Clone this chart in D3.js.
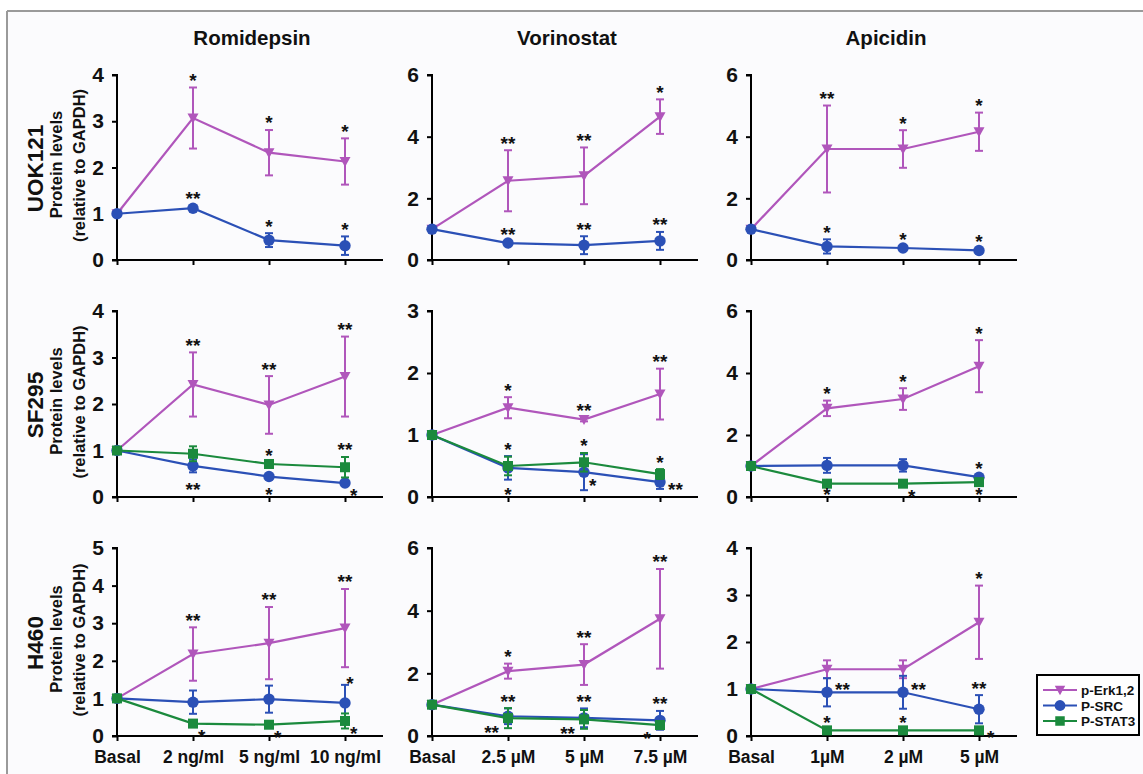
<!DOCTYPE html>
<html>
<head>
<meta charset="utf-8">
<script src="https://cdn.jsdelivr.net/npm/d3@7"></script>
<style>
  html, body { margin: 0; padding: 0; background: #ffffff; }
  svg { display: block; }
  text { font-family: "Liberation Sans", Arial, Helvetica, sans-serif; font-weight: bold; fill: #111; }
</style>
</head>
<body>
<svg id="chart" width="1143" height="774"></svg>
<script>
// ---------------- DATA ----------------
const drugs = ["Romidepsin", "Vorinostat", "Apicidin"];
const cellLines = ["UOK121", "SF295", "H460"];
const doseLabels = [
  ["Basal", "2 ng/ml", "5 ng/ml", "10 ng/ml"],
  ["Basal", "2.5 µM", "5 µM", "7.5 µM"],
  ["Basal", "1µM", "2 µM", "5 µM"]
];
// y-axis maximum and tick step for each panel [row][col]
const yMax = [[4, 6, 6], [4, 3, 6], [5, 6, 4]];
const yStep = [[1, 2, 2], [1, 1, 2], [1, 2, 1]];

const seriesNames = ["p-Erk1,2", "P-SRC", "P-STAT3"];

const erkMean = [
  [[1, 3.07, 2.32, 2.13], [1, 2.57, 2.73, 4.65], [1, 3.60, 3.60, 4.16]],
  [[1, 2.42, 1.98, 2.59], [1, 1.44, 1.25, 1.66], [1, 2.86, 3.16, 4.22]],
  [[1, 2.18, 2.47, 2.87], [1, 2.07, 2.28, 3.74], [1, 1.42, 1.42, 2.42]]
];
const erkErr = [
  [[0, 0.66, 0.49, 0.50], [0, 0.99, 0.92, 0.56], [0, 1.41, 0.61, 0.62]],
  [[0, 0.69, 0.62, 0.86], [0, 0.17, 0.03, 0.41], [0, 0.25, 0.35, 0.84]],
  [[0, 0.71, 0.96, 1.04], [0, 0.24, 0.65, 1.59], [0, 0.19, 0.19, 0.78]]
];
const srcMean = [
  [[1, 1.12, 0.43, 0.31], [1, 0.55, 0.48, 0.62], [1, 0.44, 0.39, 0.31]],
  [[1, 0.67, 0.44, 0.30], [1, 0.47, 0.40, 0.24], [1, 1.02, 1.02, 0.64]],
  [[1, 0.90, 0.98, 0.88], [1, 0.63, 0.58, 0.50], [1, 0.93, 0.93, 0.57]]
];
const srcErr = [
  [[0, 0.05, 0.15, 0.20], [0, 0.05, 0.29, 0.29], [0, 0.23, 0.06, 0.06]],
  [[0, 0.14, 0.04, 0.04], [0, 0.19, 0.29, 0.11], [0, 0.24, 0.20, 0.05]],
  [[0, 0.31, 0.36, 0.48], [0, 0.25, 0.30, 0.30], [0, 0.30, 0.35, 0.30]]
];
const stat3Mean = [
  [null, null, null],
  [[1, 0.93, 0.71, 0.64], [1, 0.50, 0.56, 0.37], [1, 0.43, 0.43, 0.48]],
  [[1, 0.33, 0.30, 0.40], [1, 0.57, 0.53, 0.35], [1, 0.12, 0.12, 0.12]]
];
const stat3Err = [
  [null, null, null],
  [[0, 0.16, 0.04, 0.22], [0, 0.15, 0.15, 0.08], [0, 0.03, 0.03, 0.03]],
  [[0, 0.04, 0.04, 0.20], [0, 0.32, 0.30, 0.05], [0, 0.02, 0.02, 0.02]]
];

// significance marks: [row, col, seriesIndex, doseIndex, label, placement]
const marks = [
  [0,0,0,1,"*","above"],[0,0,0,2,"*","above"],[0,0,0,3,"*","above"],
  [0,0,1,1,"**","above"],[0,0,1,2,"*","above"],[0,0,1,3,"*","above"],
  [0,1,0,1,"**","above"],[0,1,0,2,"**","above"],[0,1,0,3,"*","above"],
  [0,1,1,1,"**","above"],[0,1,1,2,"**","above"],[0,1,1,3,"**","above"],
  [0,2,0,1,"**","above"],[0,2,0,2,"*","above"],[0,2,0,3,"*","above"],
  [0,2,1,1,"*","above"],[0,2,1,2,"*","above"],[0,2,1,3,"*","above"],

  [1,0,0,1,"**","above"],[1,0,0,2,"**","above"],[1,0,0,3,"**","above"],
  [1,0,2,2,"*","above"],[1,0,2,3,"**","above"],
  [1,0,1,1,"**","below"],[1,0,1,2,"*","below"],[1,0,1,3,"*","downRight"],
  [1,1,0,1,"*","above"],[1,1,0,2,"**","above"],[1,1,0,3,"**","above"],
  [1,1,2,1,"*","above"],[1,1,2,2,"*","above"],[1,1,2,3,"*","above"],
  [1,1,1,1,"*","below"],[1,1,1,2,"*","downRight"],[1,1,1,3,"**","right"],
  [1,2,0,1,"*","above"],[1,2,0,2,"*","above"],[1,2,0,3,"*","above"],
  [1,2,1,3,"*","above"],
  [1,2,2,1,"*","below"],[1,2,2,2,"*","downRight"],[1,2,2,3,"*","below"],

  [2,0,0,1,"**","above"],[2,0,0,2,"**","above"],[2,0,0,3,"**","above"],
  [2,0,1,3,"*","aboveRight"],
  [2,0,2,1,"*","downRight"],[2,0,2,2,"*","downRight"],[2,0,2,3,"*","downRight"],
  [2,1,0,1,"*","above"],[2,1,0,2,"**","above"],[2,1,0,3,"**","above"],
  [2,1,1,1,"**","above"],[2,1,1,2,"**","above"],[2,1,1,3,"**","above"],
  [2,1,2,1,"**","downLeft"],[2,1,2,2,"**","downLeft"],[2,1,2,3,"*","downLeft"],
  [2,2,0,3,"*","above"],
  [2,2,1,1,"**","upRight"],[2,2,1,2,"**","upRight"],[2,2,1,3,"**","above"],
  [2,2,2,1,"*","above"],[2,2,2,2,"*","above"],[2,2,2,3,"*","right"]
];

// ---------------- LAYOUT / STYLE ----------------
const colors = ["#b056bb", "#2b50b6", "#1b8a3d"];
const colAxisX = [117, 432, 751];
const rowTop = [75, 311, 548];
const rowZero = [260, 497, 736];
const xStepPx = 76;

const svg = d3.select("#chart");

// frame
svg.append("rect").attr("x", 7).attr("y", 11).attr("width", 1136).attr("height", 763).attr("fill", "#fbfbfd");
svg.append("line").attr("x1", 7).attr("x2", 1143).attr("y1", 11).attr("y2", 11).attr("stroke", "#9a9a9a").attr("stroke-width", 2);
svg.append("line").attr("x1", 7).attr("x2", 7).attr("y1", 11).attr("y2", 774).attr("stroke", "#9a9a9a").attr("stroke-width", 2);

function markerPath(kind, g, x, y, s) {
  if (kind === 0) {
    const w = 11 * s, h = 10 * s;
    g.append("path").attr("d", `M${x - w/2},${y - h*0.45}L${x + w/2},${y - h*0.45}L${x},${y + h*0.55}Z`);
  } else if (kind === 1) {
    g.append("circle").attr("cx", x).attr("cy", y).attr("r", 5.7 * s);
  } else {
    const a = 10 * s;
    g.append("rect").attr("x", x - a/2).attr("y", y - a/2).attr("width", a).attr("height", a);
  }
}

const starSize = 19;

drugs.forEach((drug, c) => {
  svg.append("text").attr("x", colAxisX[c] + 3.5 * xStepPx / 2 + 2).attr("y", 45)
    .attr("text-anchor", "middle").style("font-size", "20.5px").text(drug);
});

cellLines.forEach((cl, r) => {
  const mid = (rowTop[r] + rowZero[r]) / 2;
  svg.append("text").attr("transform", `translate(42.5,${mid + 1}) rotate(-90)`)
    .attr("text-anchor", "middle").style("font-size", "22.5px").text(cl);
  svg.append("text").attr("transform", `translate(61.5,${mid - 3}) rotate(-90)`)
    .attr("text-anchor", "middle").style("font-size", "16.5px").text("Protein levels");
  svg.append("text").attr("transform", `translate(84.5,${mid - 2}) rotate(-90)`)
    .attr("text-anchor", "middle").style("font-size", "16.5px").text("(relative to GAPDH)");

  drugs.forEach((drug, c) => {
    const x = d3.scaleLinear().domain([0, 3.5]).range([colAxisX[c], colAxisX[c] + 3.5 * xStepPx]);
    const y = d3.scaleLinear().domain([0, yMax[r][c]]).range([rowZero[r], rowTop[r]]);
    const g = svg.append("g");

    const yAxis = d3.axisLeft(y).tickValues(d3.range(0, yMax[r][c] + 0.001, yStep[r][c]))
      .tickSize(5).tickPadding(8).tickFormat(d3.format("d"));
    const ya = g.append("g").attr("transform", `translate(${colAxisX[c]},0)`).call(yAxis);
    ya.select(".domain").attr("d", `M-5,${rowTop[r]}H0V${rowZero[r]}H-5`).attr("stroke", "#000").attr("stroke-width", 2);
    ya.selectAll(".tick line").attr("stroke", "#000").attr("stroke-width", 2);
    ya.selectAll(".tick text").style("font-size", "21px").style("font-family", "Liberation Sans, Arial, sans-serif")
      .style("font-weight", "bold").attr("fill", "#111");

    const xAxis = d3.axisBottom(x).tickValues([0, 1, 2, 3]).tickSize(5).tickPadding(10)
      .tickFormat(i => r === 2 ? doseLabels[c][i] : "");
    const xa = g.append("g").attr("transform", `translate(0,${rowZero[r]})`).call(xAxis);
    xa.select(".domain").attr("d", `M${x(0)},0H${x(3.5)}`).attr("stroke", "#000").attr("stroke-width", 2);
    xa.selectAll(".tick line").attr("stroke", "#000").attr("stroke-width", 2);
    xa.selectAll(".tick text").style("font-size", "17.5px").style("font-family", "Liberation Sans, Arial, sans-serif")
      .style("font-weight", "bold").attr("fill", "#111");

    const means = [erkMean[r][c], srcMean[r][c], stat3Mean[r][c]];
    const errs = [erkErr[r][c], srcErr[r][c], stat3Err[r][c]];

    means.forEach((m, s) => {
      if (!m) return;
      const col = colors[s];
      const e = errs[s];
      const line = d3.line().x((d, i) => x(i)).y(d => y(d));
      g.append("path").attr("d", line(m)).attr("fill", "none").attr("stroke", col).attr("stroke-width", 2.2);
      const eg = g.append("g").attr("stroke", col).attr("stroke-width", 2).attr("fill", "none");
      m.forEach((v, i) => {
        if (!e[i]) return;
        const xp = x(i), y1 = y(v + e[i]), y2 = y(Math.max(0, v - e[i]));
        eg.append("line").attr("x1", xp).attr("x2", xp).attr("y1", y1).attr("y2", y2);
        eg.append("line").attr("x1", xp - 4).attr("x2", xp + 4).attr("y1", y1).attr("y2", y1);
        eg.append("line").attr("x1", xp - 4).attr("x2", xp + 4).attr("y1", y2).attr("y2", y2);
      });
      const mg = g.append("g").attr("fill", col);
      m.forEach((v, i) => markerPath(s, mg, x(i), y(v), 1));
    });

    marks.filter(k => k[0] === r && k[1] === c).forEach(k => {
      const s = k[2], i = k[3], lab = k[4], place = k[5];
      const v = means[s][i], e = errs[s][i];
      const px = x(i), py = y(v);
      const top = y(v + e), bot = y(Math.max(0, v - e));
      let cx = px, cy = py, anchor = "middle";
      if (place === "above") { cy = top - 12; }
      else if (place === "below") { cy = Math.min(bot + 12, rowZero[r] - 7); }
      else if (place === "aboveRight") { cx = px + 5; cy = top - 6; }
      else if (place === "right") { cx = px + 8; cy = py + 2; anchor = "start"; }
      else if (place === "upRight") { cx = px + 8; cy = py - 8; anchor = "start"; }
      else if (place === "downRight") { cx = px + 5; cy = py + 8; anchor = "start"; }
      else if (place === "downLeft") { cx = px - 9; cy = py + 9; anchor = "end"; }
      g.append("text").attr("x", cx).attr("y", cy + 0.6 * starSize)
        .attr("text-anchor", anchor).style("font-size", starSize + "px")
        .text(lab);
    });
  });
});

// legend
const lg = svg.append("g");
lg.append("rect").attr("x", 1037).attr("y", 675).attr("width", 102).attr("height", 60)
  .attr("fill", "#ffffff").attr("stroke", "#000").attr("stroke-width", 2);
seriesNames.forEach((nm, s) => {
  const yy = 690 + s * 15.5;
  lg.append("line").attr("x1", 1043).attr("x2", 1077).attr("y1", yy).attr("y2", yy)
    .attr("stroke", colors[s]).attr("stroke-width", 2.2);
  const mg = lg.append("g").attr("fill", colors[s]);
  markerPath(s, mg, 1060, yy, 0.95);
  lg.append("text").attr("x", 1081).attr("y", yy + 5).style("font-size", "13.5px").text(nm);
});
</script>
</body>
</html>
